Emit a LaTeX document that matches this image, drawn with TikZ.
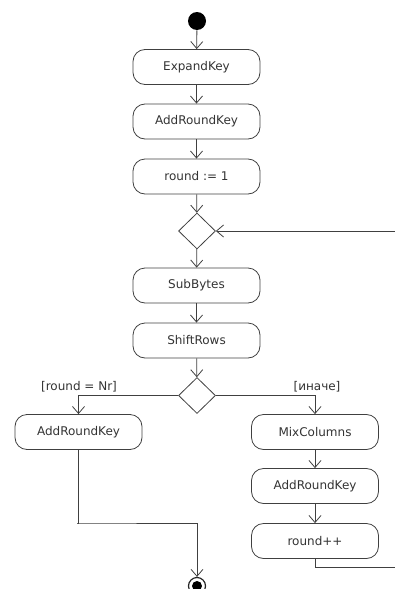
\documentclass[tikz,border=0pt]{standalone}
\usepackage{fontspec}
\setmainfont{DejaVu Sans}
\usetikzlibrary{arrows.meta,shapes.geometric}
\begin{document}
\begin{tikzpicture}[x=1pt,y=-1pt,
  line width=0.8pt, draw=black!75,
  act/.style={draw=black!75, rounded corners=12pt, minimum width=127pt, minimum height=35pt, inner sep=0pt, font=\fontsize{12}{14}\selectfont, text=black!80},
  dec/.style={draw=black!75, diamond, minimum width=37pt, minimum height=36pt, inner sep=0pt},
  flow/.style={draw=black!75, -{Straight Barb[length=7pt,width=12pt,line width=0.8pt]}},
  lbl/.style={font=\fontsize{12}{14}\selectfont, text=black!80, inner sep=0pt}]
\useasboundingbox (0,0) rectangle (395,589);
\node[circle, fill=black, minimum size=18pt, inner sep=0pt] (start) at (197,21) {};
\node[act] (expand) at (196.5,67) {ExpandKey};
\node[act] (ark1) at (196.5,121.5) {AddRoundKey};
\node[act] (r1) at (196.5,176.5) {round := 1};
\node[dec] (d1) at (197,231) {};
\node[act] (sub) at (196.5,285.5) {SubBytes};
\node[act] (shift) at (196.5,340.5) {ShiftRows};
\node[dec] (d2) at (197,395.5) {};
\node[act] (arkL) at (78.5,432) {AddRoundKey};
\node[act] (mix) at (315,432) {MixColumns};
\node[act] (arkR) at (315,486) {AddRoundKey};
\node[act] (rpp) at (315,541) {round++};
\node[circle, draw=black!85, line width=1.2pt, minimum size=17pt, inner sep=0pt] (end) at (197,586) {};
\fill[black] (end.center) circle (5pt);
\node[lbl] (lblL) at (79,387) {[round = Nr]};
\node[lbl] (lblR) at (317,387) {[иначе]};
\coordinate (loopin) at (395,231);
\coordinate (loopout) at (395,567);
\draw[flow] (start) -- (expand);
\draw[flow] (expand) -- (ark1);
\draw[flow] (ark1) -- (r1);
\draw[flow] (r1) -- (d1);
\draw[flow] (d1) -- (sub);
\draw[flow] (sub) -- (shift);
\draw[flow] (shift) -- (d2);
\draw[flow] (loopin) -- (d1.east);
\draw[flow] (d2.west) -| (arkL.north);
\draw[flow] (d2.east) -| (mix.north);
\draw[flow] (mix) -- (arkR);
\draw[flow] (arkR) -- (rpp);
\draw[flow] (arkL.south) |- (77,523) -| (end.north);
\draw (rpp.south) |- (loopout);
\end{tikzpicture}
\end{document}
